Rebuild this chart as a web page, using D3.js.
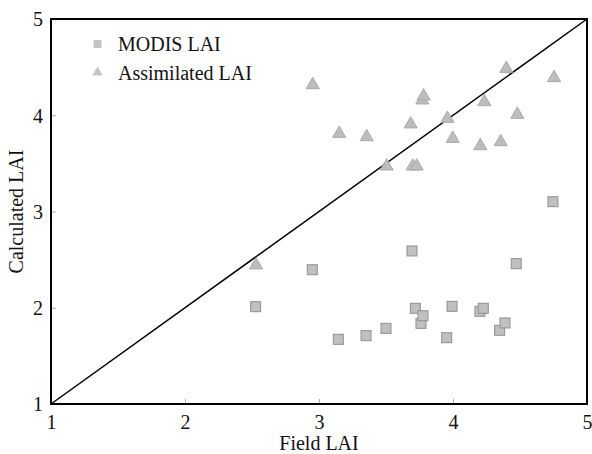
<!DOCTYPE html>
<html><head><meta charset="utf-8">
<script src="https://cdn.jsdelivr.net/npm/d3@7"></script>
<style>body{margin:0;background:#fff}svg text{font-family:"Liberation Serif","Times New Roman",serif;fill:#111}</style>
</head><body><svg id="c" width="592" height="454"></svg>
<script>
const xTicks = [1, 2, 3, 4, 5];
const yTicks = [1, 2, 3, 4, 5];
const modisField = [2.527, 2.950, 3.144, 3.351, 3.500, 3.694, 3.719, 3.761, 3.776, 3.953, 3.993, 4.201, 4.226, 4.348, 4.388, 4.472, 4.746];
const modisLAI   = [2.011, 2.395, 1.672, 1.710, 1.786, 2.590, 1.994, 1.838, 1.917, 1.689, 2.015, 1.963, 1.994, 1.766, 1.842, 2.458, 3.102];
const assimField = [2.530, 2.953, 3.151, 3.356, 3.505, 3.684, 3.699, 3.729, 3.771, 3.781, 3.958, 3.998, 4.204, 4.234, 4.356, 4.398, 4.480, 4.754];
const assimLAI   = [2.462, 4.335, 3.829, 3.795, 3.490, 3.927, 3.490, 3.490, 4.176, 4.218, 3.985, 3.777, 3.701, 4.158, 3.743, 4.504, 4.027, 4.408];
const seriesNames = ["MODIS LAI", "Assimilated LAI"];
const xTitle = "Field LAI", yTitle = "Calculated LAI";

const svg = d3.select("#c");
const L = 51, R = 587, T = 19, B = 404;
const x = d3.scaleLinear().domain([1, 5]).range([L, R]);
const y = d3.scaleLinear().domain([1, 5]).range([B, T]);
const FS = 20;

// inward ticks
const xa = svg.append("g").attr("transform", `translate(0,${B})`)
  .call(d3.axisBottom(x).tickValues(xTicks).tickSize(-5).tickPadding(11).tickFormat(d3.format("d")));
const ya = svg.append("g").attr("transform", `translate(${L},0)`)
  .call(d3.axisLeft(y).tickValues(yTicks).tickSize(-5).tickPadding(8).tickFormat(d3.format("d")));
[xa, ya].forEach(a => {
  a.select(".domain").remove();
  a.selectAll(".tick line").attr("stroke", "#aaa").attr("stroke-width", 1);
  a.selectAll(".tick text").attr("font-size", FS).attr("font-family", '"Liberation Serif",serif').attr("fill", "#111");
});
ya.selectAll(".tick text").attr("dy", "0.34em");

// frame
svg.append("rect").attr("x", L).attr("y", T).attr("width", R - L).attr("height", B - T)
  .attr("fill", "none").attr("stroke", "#000").attr("stroke-width", 2);

// 1:1 line
svg.append("line").attr("x1", x(1)).attr("y1", y(1)).attr("x2", x(5)).attr("y2", y(5))
  .attr("stroke", "#000").attr("stroke-width", 1.5);

const triSize = 75;
const tri = d3.symbol().type(d3.symbolTriangle).size(triSize);
const triShift = Math.sqrt(triSize / (Math.sqrt(3) * 3)) / 2; // bbox-centre the triangle

// squares
svg.append("g").selectAll("rect").data(modisField).join("rect")
  .attr("x", d => x(d) - 5).attr("y", (d, i) => y(modisLAI[i]) - 5)
  .attr("width", 10).attr("height", 10)
  .attr("fill", "#c0c0c0").attr("stroke", "#8f8f8f").attr("stroke-width", 1);

// triangles
svg.append("g").selectAll("path").data(assimField).join("path")
  .attr("d", tri)
  .attr("transform", (d, i) => `translate(${x(d)},${y(assimLAI[i]) + triShift})`)
  .attr("fill", "#bdbdbd").attr("stroke", "#a0a0a0").attr("stroke-width", 0.8);

// legend
const lg = svg.append("g");
lg.append("rect").attr("x", 93.5).attr("y", 40).attr("width", 8).attr("height", 8).attr("fill", "#c4c4c4");
lg.append("path").attr("d", d3.symbol().type(d3.symbolTriangle).size(48)).attr("transform", "translate(97.5,72.5)").attr("fill", "#c4c4c4");
lg.append("text").attr("x", 118).attr("y", 51).attr("font-size", FS).text(seriesNames[0]);
lg.append("text").attr("x", 118).attr("y", 80).attr("font-size", FS).text(seriesNames[1]);

// axis titles
svg.append("text").attr("x", (L + R) / 2).attr("y", 450).attr("text-anchor", "middle")
  .attr("font-size", FS).text(xTitle);
svg.append("text").attr("transform", `translate(23,${(T + B) / 2}) rotate(-90)`).attr("text-anchor", "middle")
  .attr("font-size", FS).text(yTitle);
</script></body></html>
